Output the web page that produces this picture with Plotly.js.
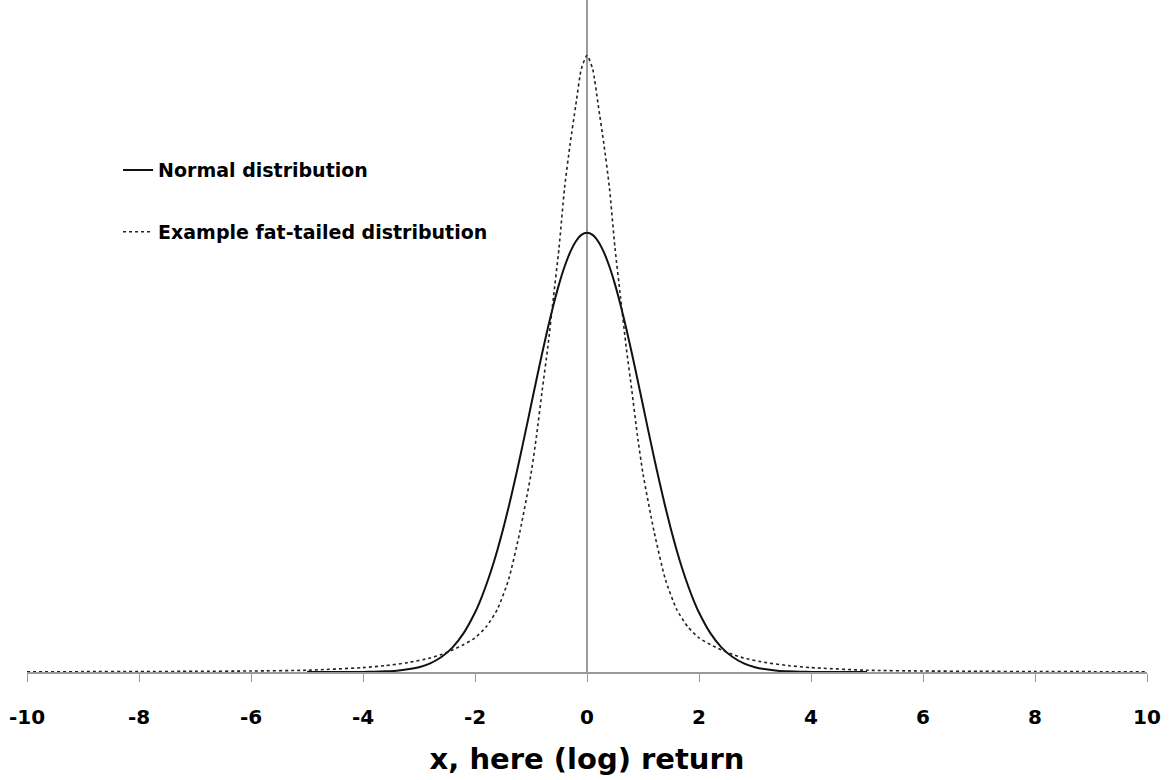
<!DOCTYPE html>
<html>
<head>
<meta charset="utf-8">
<script src="https://cdn.plot.ly/plotly-3.0.1.min.js"></script>
<style>
html,body{margin:0;padding:0;background:#fff;}
#chart{width:1171px;height:780px;}
</style>
</head>
<body>
<div id="chart"></div>
<script>
// ---- data ----
const normalX = [-5, -4.5, -4, -3.8, -3.6, -3.4, -3.2, -3, -2.8, -2.6, -2.4, -2.2, -2, -1.9, -1.8, -1.7, -1.6, -1.5, -1.4, -1.3, -1.2, -1.1, -1, -0.9, -0.8, -0.7, -0.6, -0.5, -0.4, -0.3, -0.2, -0.1, 0,
                 0.1, 0.2, 0.3, 0.4, 0.5, 0.6, 0.7, 0.8, 0.9, 1, 1.1, 1.2, 1.3, 1.4, 1.5, 1.6, 1.7, 1.8, 1.9, 2, 2.2, 2.4, 2.6, 2.8, 3, 3.2, 3.4, 3.6, 3.8, 4, 4.5, 5];
const normalY = [0.0000, 0.0000, 0.0001, 0.0003, 0.0006, 0.0012, 0.0024, 0.0044, 0.0079, 0.0136, 0.0224, 0.0355, 0.0540, 0.0656, 0.0790, 0.0940, 0.1109, 0.1295, 0.1497, 0.1714, 0.1942, 0.2179, 0.2420, 0.2661, 0.2897, 0.3123, 0.3332, 0.3521, 0.3683, 0.3814, 0.3910, 0.3970, 0.3989,
                 0.3970, 0.3910, 0.3814, 0.3683, 0.3521, 0.3332, 0.3123, 0.2897, 0.2661, 0.2420, 0.2179, 0.1942, 0.1714, 0.1497, 0.1295, 0.1109, 0.0940, 0.0790, 0.0656, 0.0540, 0.0355, 0.0224, 0.0136, 0.0079, 0.0044, 0.0024, 0.0012, 0.0006, 0.0003, 0.0001, 0.0000, 0.0000];

const fatX = [-10, -9, -8, -7, -6, -5, -4, -3.6, -3.2, -2.8, -2.6, -2.4, -2.2, -2, -1.8, -1.6, -1.4, -1.2, -1, -0.9, -0.8, -0.7, -0.6, -0.5, -0.4, -0.3, -0.2, -0.1, 0,
              0.1, 0.2, 0.3, 0.4, 0.5, 0.6, 0.7, 0.8, 0.9, 1, 1.2, 1.4, 1.6, 1.8, 2, 2.2, 2.4, 2.6, 2.8, 3.2, 3.6, 4, 5, 6, 7, 8, 9, 10];
const fatY = [0.0002, 0.0003, 0.0004, 0.0006, 0.0009, 0.0016, 0.0040, 0.0058, 0.0085, 0.0127, 0.0160, 0.0200, 0.0250, 0.0310, 0.0410, 0.0570, 0.0840, 0.1270, 0.1800, 0.2150, 0.2560, 0.2950, 0.3400, 0.3850, 0.4400, 0.4800, 0.5150, 0.5480, 0.5600,
              0.5480, 0.5150, 0.4800, 0.4400, 0.3850, 0.3400, 0.2950, 0.2560, 0.2150, 0.1800, 0.1270, 0.0840, 0.0570, 0.0410, 0.0310, 0.0250, 0.0200, 0.0160, 0.0127, 0.0085, 0.0058, 0.0040, 0.0016, 0.0009, 0.0006, 0.0004, 0.0003, 0.0002];

const tickValues = [-10, -8, -6, -4, -2, 0, 2, 4, 6, 8, 10];
const tickLabels = ["-10", "-8", "-6", "-4", "-2", "0", "2", "4", "6", "8", "10"];

const seriesNames = ["Normal distribution", "Example fat-tailed distribution"];
const xTitle = "x, here (log) return";

const FONT = "'DejaVu Sans', 'Open Sans', sans-serif";

const traces = [
  {
    x: normalX, y: normalY, type: "scatter", mode: "lines",
    name: seriesNames[0], legendgroup: "a",
    line: {color: "#111111", width: 2, shape: "spline", smoothing: 0.6}
  },
  {
    x: fatX, y: fatY, type: "scatter", mode: "lines",
    name: seriesNames[1], legendgroup: "b",
    line: {color: "#222222", width: 1.6, dash: "dot", shape: "spline", smoothing: 0.6}
  }
];

const layout = {
  width: 1171, height: 780,
  margin: {l: 27, r: 24, t: 0, b: 108, pad: 0},
  paper_bgcolor: "#ffffff", plot_bgcolor: "#ffffff",
  showlegend: true,
  legend: {
    x: 0.0813, y: 0.775, xanchor: "left", yanchor: "top",
    traceorder: "grouped", tracegroupgap: 34,
    bgcolor: "rgba(0,0,0,0)",
    font: {family: FONT, size: 19, color: "#000", weight: 700}
  },
  xaxis: {
    range: [-10, 10],
    tickvals: tickValues, ticktext: tickLabels,
    ticks: "outside", ticklen: 8, tickcolor: "#9a9a9a", tickwidth: 1,
    ticklabelstandoff: 18,
    showline: true, linecolor: "#9a9a9a", linewidth: 1.5,
    showgrid: false,
    zeroline: true, zerolinecolor: "#9a9a9a", zerolinewidth: 1.5,
    tickfont: {family: FONT, size: 20, color: "#000", weight: 700},
    title: {text: xTitle, font: {family: FONT, size: 29, color: "#000", weight: 700}, standoff: 21},
    fixedrange: true
  },
  yaxis: {
    range: [0, 0.6104],
    showline: false, showgrid: false, zeroline: false,
    showticklabels: false, ticks: "",
    fixedrange: true
  }
};

Plotly.newPlot("chart", traces, layout, {displayModeBar: false, staticPlot: true});
</script>
</body>
</html>
